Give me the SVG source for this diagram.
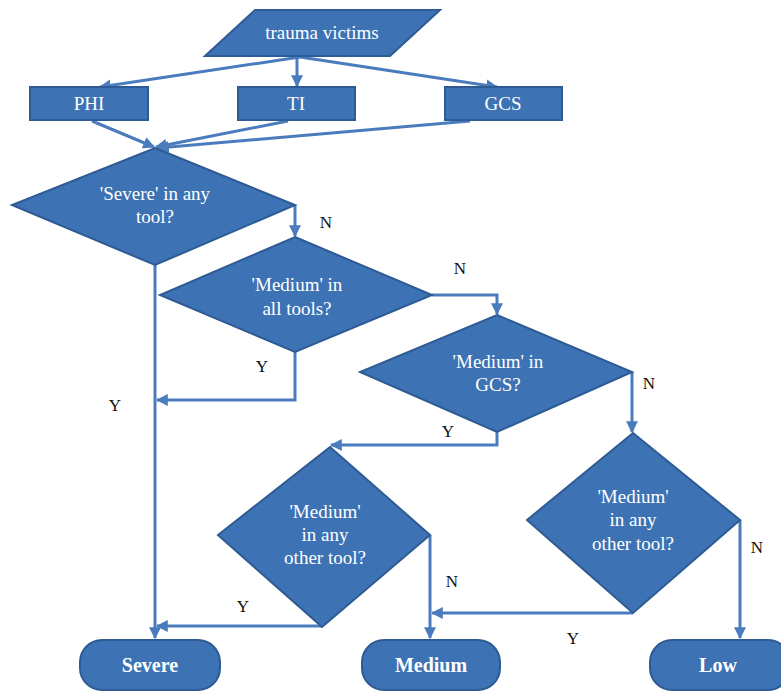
<svg xmlns="http://www.w3.org/2000/svg" width="781" height="693" viewBox="0 0 781 693">
<style>
.shape{fill:#3d72b4;stroke:#2e5b93;stroke-width:2}
.t{font-family:"Liberation Serif",serif;fill:#ffffff;text-anchor:middle;font-size:19px}
.tb{font-family:"Liberation Serif",serif;fill:#ffffff;text-anchor:middle;font-size:20px;font-weight:bold}
.lbl{font-family:"Liberation Serif",serif;fill:#111111;font-size:17px;text-anchor:middle}
.c{fill:none;stroke:#4a7cbd;stroke-width:3;marker-end:url(#ah)}
.cn{fill:none;stroke:#4a7cbd;stroke-width:3}
</style>
<defs>
<marker id="ah" viewBox="0 0 10 10" refX="9" refY="5" markerWidth="4" markerHeight="4" orient="auto" markerUnits="strokeWidth">
<path d="M0,0 L10,5 L0,10 z" fill="#4a7cbd"/>
</marker>
</defs>
<rect width="781" height="693" fill="#ffffff"/>
<g id="connectors">
<path class="c" d="M300,57 L100,87"/>
<path class="c" d="M297,57 L297,86"/>
<path class="c" d="M300,57 L497,87"/>
<path class="c" d="M92,121 L154,147"/>
<path class="c" d="M288,121 L156,147"/>
<path class="c" d="M470,121 L158,148"/>
<path class="c" d="M295,205 L295,236"/>
<path class="c" d="M432,295 L497,295 L497,314"/>
<path class="c" d="M295,352 L295,400 L157,400"/>
<path class="c" d="M155,265 L155,638"/>
<path class="c" d="M632,372 L632,432"/>
<path class="c" d="M497,432 L497,445 L331,445"/>
<path class="c" d="M322,626 L157,626"/>
<path class="c" d="M430,535 L430,638"/>
<path class="c" d="M633,613 L432,613"/>
<path class="c" d="M740,520 L740,638"/>
</g>
<g id="n-trauma"><polygon class="shape" points="255,10 440,10 390,56 205,56"/><text class="t" x="322" y="39">trauma victims</text></g>
<g id="n-phi"><rect class="shape" x="30" y="87" width="118" height="33"/><text class="t" x="89" y="110">PHI</text></g>
<g id="n-ti"><rect class="shape" x="238" y="87" width="117" height="33"/><text class="t" x="296" y="110">TI</text></g>
<g id="n-gcs"><rect class="shape" x="445" y="87" width="117" height="33"/><text class="t" x="503" y="110">GCS</text></g>
<g id="n-d1"><polygon class="shape" points="155,148 295,205 155,265 12,205"/><text class="t" x="155" y="200">'Severe' in any</text><text class="t" x="155" y="223">tool?</text></g>
<g id="n-d2"><polygon class="shape" points="295,237 432,295 295,352 160,295"/><text class="t" x="297" y="291">'Medium' in</text><text class="t" x="297" y="315">all tools?</text></g>
<g id="n-d3"><polygon class="shape" points="497,315 632,372 497,432 360,372"/><text class="t" x="498" y="368">'Medium' in</text><text class="t" x="498" y="391">GCS?</text></g>
<g id="n-d4"><polygon class="shape" points="330,447 430,535 322,627 218,535"/><text class="t" x="325" y="518">'Medium'</text><text class="t" x="325" y="541">in any</text><text class="t" x="325" y="564">other tool?</text></g>
<g id="n-d5"><polygon class="shape" points="633,433 740,520 633,613 527,520"/><text class="t" x="633" y="503">'Medium'</text><text class="t" x="633" y="526">in any</text><text class="t" x="633" y="550">other tool?</text></g>
<g id="n-severe"><rect class="shape" x="80" y="640" width="140" height="50" rx="22"/><text class="tb" x="150" y="672">Severe</text></g>
<g id="n-medium"><rect class="shape" x="362" y="640" width="138" height="50" rx="22"/><text class="tb" x="431" y="672">Medium</text></g>
<g id="n-low"><rect class="shape" x="650" y="640" width="140" height="50" rx="22"/><text class="tb" x="718" y="672">Low</text></g>
<g id="labels">
<text class="lbl" x="326" y="228">N</text>
<text class="lbl" x="460" y="274">N</text>
<text class="lbl" x="262" y="372">Y</text>
<text class="lbl" x="115" y="411">Y</text>
<text class="lbl" x="649" y="389">N</text>
<text class="lbl" x="448" y="437">Y</text>
<text class="lbl" x="243" y="612">Y</text>
<text class="lbl" x="452" y="587">N</text>
<text class="lbl" x="573" y="644">Y</text>
<text class="lbl" x="757" y="553">N</text>
</g>
</svg>
